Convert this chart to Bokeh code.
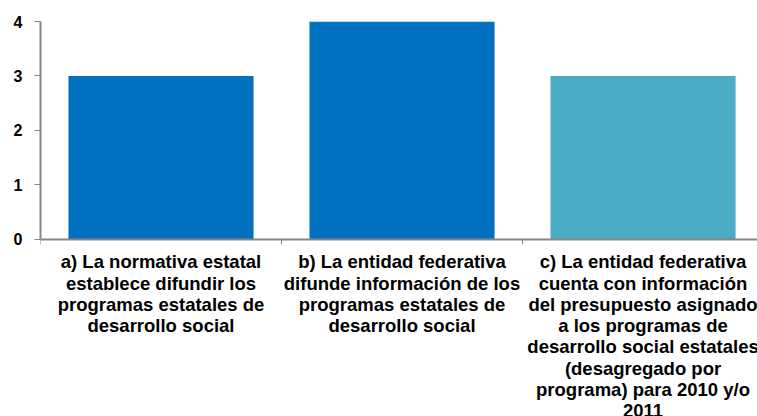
from bokeh.plotting import figure
from bokeh.models import Range1d, FixedTicker, ColumnDataSource
from bokeh.core.properties import value
from bokeh.embed import file_html
from bokeh.resources import INLINE

categories = [
    "a) La normativa estatal\nestablece difundir los\nprogramas estatales de\ndesarrollo social",
    "b) La entidad federativa\ndifunde información de los\nprogramas estatales de\ndesarrollo social",
    "c) La entidad federativa\ncuenta con información\ndel presupuesto asignado\na los programas de\ndesarrollo social estatales\n(desagregado por\nprograma) para 2010 y/o\n2011",
]
values = [3, 4, 3]
colors = ["#0070C0", "#0070C0", "#4BACC6"]
y_ticks = [0, 1, 2, 3, 4]

xs = [i + 0.5 for i in range(len(categories))]
src = ColumnDataSource(dict(x=xs, top=values, color=colors, label=categories, y0=[0] * len(values)))

p = figure(width=757, height=416, output_backend="svg", toolbar_location=None,
           x_range=Range1d(0, 2.975), y_range=Range1d(-3.248, 4),
           min_border_left=40, min_border_top=21, min_border_right=0, min_border_bottom=0)
p.outline_line_color = None
p.xgrid.visible = False
p.ygrid.visible = False
p.background_fill_color = "white"

p.vbar(x="x", top="top", bottom=0, width=0.768, color="color", line_color=None, source=src)

axis_gray = "#868686"
p.xaxis.fixed_location = 0
p.xaxis.ticker = FixedTicker(ticks=list(range(len(categories) + 1)))
p.xaxis.major_label_text_font_size = "0px"
p.xaxis.major_label_text_color = None
p.xaxis.axis_line_color = axis_gray
p.xaxis.axis_line_width = 2
p.xaxis.major_tick_line_color = axis_gray
p.xaxis.major_tick_out = 5
p.xaxis.major_tick_in = 0
p.xaxis.minor_tick_line_color = None

p.yaxis.ticker = FixedTicker(ticks=y_ticks)
p.yaxis.bounds = (0, 4)
p.yaxis.axis_line_color = axis_gray
p.yaxis.axis_line_width = 2
p.yaxis.major_tick_line_color = axis_gray
p.yaxis.major_tick_out = 6
p.yaxis.major_tick_in = 0
p.yaxis.minor_tick_line_color = None
p.yaxis.major_label_text_font = "Liberation Sans"
p.yaxis.major_label_text_font_style = "bold"
p.yaxis.major_label_text_font_size = "16px"
p.yaxis.major_label_text_color = "black"
p.yaxis.major_label_standoff = 12

p.text(x="x", y="y0", text="label", source=src, y_offset=12,
       text_align="center", text_baseline="top",
       text_font=value("Liberation Sans"), text_font_style="bold",
       text_font_size="18.5px", text_line_height=1.01, text_color="black")

open("out.html", "w").write(file_html(p, INLINE))
